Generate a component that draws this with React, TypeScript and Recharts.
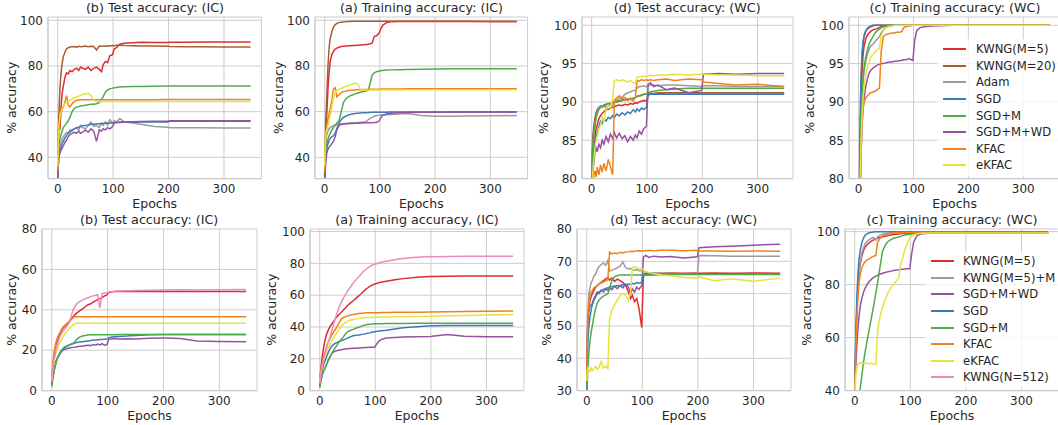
import React from 'react'
import { LineChart, Line, XAxis, YAxis, CartesianGrid } from 'recharts'

// shared epoch grid (x values) for every series
const EPOCHS = [0, 1, 2, 4, 6, 8, 10, 13, 16, 19, 22, 26, 30, 34, 38, 41, 45, 50, 55, 60, 65, 70, 75, 79, 82, 86, 90, 94, 99, 102, 106, 112, 120, 135, 150, 175, 199, 202, 230, 260, 300, 348]
const X_TICKS = [0, 100, 200, 300]

// ---------- top row, (b) Test accuracy: (IC)
const IC_TEST_KWNG5 = [
  33, 45, 58, 52, 62, 68, 71, 75, 77, 76.5,
  78, 77.5, 78.5, 79, 78, 79.5, 79, 78.5, 79.5, 78,
  79, 79.5, 78.5, 77.5, 80.5, 82, 81.5, 84.5, 85, 87.5,
  88, 89.5, 90, 90.2, 90.4, 90.3, 90.3, 90.4, 90.4, 90.5,
  90.5, 90.5,
]
const IC_TEST_KWNG20 = [
  35, 48, 58, 70, 77, 81, 84, 86, 87.5, 88,
  88.3, 88.4, 88.5, 88.2, 88.6, 88.4, 88.5, 88.7, 88.4, 88.6,
  88.5, 87, 88.7, 88.6, 88.8, 88.7, 88.9, 88.8, 89, 88.9,
  89.1, 89.2, 89, 88.9, 88.8, 88.7, 88.6, 88.5, 88.4, 88.4,
  88.3, 88.3,
]
const IC_TEST_ADAM = [
  32, 38, 42, 45, 47, 48, 49, 50, 51, 50.5,
  52, 51.5, 52.5, 53, 52, 54, 53, 52.5, 54, 55.5,
  53.5, 54, 53, 55, 54, 55.5, 54, 56.5, 55, 56,
  55.5, 57, 55.5, 55, 54.5, 53.5, 53.2, 53, 53, 53,
  52.9, 52.8,
]
const IC_TEST_SGD = [
  30, 36, 40, 43, 44.5, 46, 47, 48.5, 49.5, 50.5,
  51, 52, 52.5, 53, 53.2, 53.5, 53.8, 54, 54.2, 54.5,
  54.5, 54.6, 54.7, 54.8, 54.8, 54.9, 55, 55, 55, 55.2,
  55.3, 55.3, 55.4, 55.4, 55.5, 55.5, 55.5, 55.8, 55.8, 55.8,
  55.8, 55.8,
]
const IC_TEST_SGDM = [
  31, 40, 45, 48, 50, 51.5, 53, 54, 55, 56,
  57.5, 60, 61.5, 62, 62.2, 62.5, 62.6, 62.8, 63, 63.2,
  63.3, 63.5, 64, 65.5, 66.5, 68.5, 69.5, 70, 70.3, 70.5,
  70.6, 70.8, 70.9, 71, 71, 71.1, 71.2, 71.2, 71.2, 71.2,
  71.2, 71.2,
]
const IC_TEST_SGDMWD = [
  30, 36, 40, 42, 43, 44, 45, 46.5, 47.5, 49,
  50, 50.5, 51, 50.5, 51.5, 50.5, 51, 52, 51, 52.5,
  51.5, 47, 52, 51.5, 52.5, 52, 53, 52.5, 53.5, 55,
  55.3, 55.5, 55.5, 55.6, 55.7, 55.8, 55.8, 56, 56, 56,
  56, 56,
]
const IC_TEST_KFAC = [
  34, 45, 52, 56, 59, 61, 62, 64, 67, 63,
  62, 63.5, 64.5, 65, 65, 65.2, 65.2, 65.2, 65.2, 65.2,
  65.2, 65.2, 65.2, 65.2, 65.2, 65.2, 65.2, 65.2, 65.2, 65.2,
  65.2, 65.2, 65.2, 65.2, 65.2, 65.2, 65.3, 65.3, 65.3, 65.3,
  65.3, 65.3,
]
const IC_TEST_EKFAC = [
  36, 48, 54, 58, 60, 61.5, 62.5, 63.5, 64, 64.5,
  65, 65.5, 66, 66.5, 66.8, 67, 67.5, 67.8, 68, 67,
  64.8, 64.5, 64.5, 64.5, 64.5, 64.5, 64.5, 64.5, 64.5, 64.5,
  64.5, 64.5, 64.5, 64.5, 64.5, 64.5, 64.5, 64.4, 64.4, 64.4,
  64.4, 64.4,
]

// ---------- top row, (a) Training accuracy: (IC)
const IC_TRAIN_KWNG5 = [
  32, 42, 50, 60, 70, 77, 82, 85, 86.5, 87.3,
  87.8, 88.2, 88.5, 88.6, 88.7, 88.8, 88.9, 89, 89, 89.1,
  89.2, 89.3, 89.4, 89.5, 89.7, 90, 93, 93.2, 94.5, 96.5,
  98, 99, 99.4, 99.5, 99.5, 99.5, 99.5, 99.5, 99.5, 99.5,
  99.5, 99.5,
]
const IC_TRAIN_KWNG20 = [
  32, 45, 55, 68, 80, 88, 92, 95, 97, 98,
  98.6, 99, 99.2, 99.3, 99.4, 99.5, 99.5, 99.6, 99.6, 99.6,
  99.6, 99.6, 99.6, 99.6, 99.6, 99.6, 99.6, 99.6, 99.6, 99.6,
  99.6, 99.6, 99.6, 99.6, 99.6, 99.6, 99.6, 99.6, 99.6, 99.6,
  99.5, 99.5,
]
const IC_TRAIN_ADAM = [
  32, 42, 47, 50, 51.5, 52.5, 53, 53.5, 54, 54.2,
  54.4, 54.5, 54.6, 54.7, 54.8, 54.9, 55, 55.1, 55.2, 55.3,
  55.4, 55.5, 55.6, 56.5, 57, 57.5, 58, 58.3, 58.4, 58.5,
  58.6, 58.7, 58.8, 59, 59.2, 58.3, 58, 58, 58, 58.1,
  58.2, 58.3,
]
const IC_TRAIN_SGD = [
  30, 35, 40, 44, 46, 47.5, 48.3, 49, 49.5, 50.5,
  52.5, 55, 56.5, 57.5, 58, 58.4, 58.7, 59, 59.2, 59.3,
  59.4, 59.5, 59.5, 59.6, 59.6, 59.7, 59.7, 59.7, 59.8, 59.8,
  59.8, 59.8, 59.9, 59.9, 59.9, 59.9, 59.9, 59.9, 59.9, 59.9,
  59.9, 59.9,
]
const IC_TRAIN_SGDM = [
  30, 38, 42, 46, 48, 49.5, 50.5, 52, 53, 54,
  55, 56, 60, 64, 65.5, 66.2, 66.8, 67.3, 67.8, 68.2,
  68.5, 68.8, 69, 69.5, 72, 76, 77, 77.5, 77.8, 78,
  78, 78.2, 78.3, 78.4, 78.5, 78.6, 78.7, 78.7, 78.8, 78.8,
  78.8, 78.8,
]
const IC_TRAIN_SGDMWD = [
  28, 34, 38, 42, 43.5, 44.5, 45, 46, 47, 49,
  52, 54, 54.4, 54.6, 54.7, 54.7, 54.8, 54.8, 54.9, 54.9,
  55, 55, 55.1, 55.1, 55.2, 55.2, 55.3, 55.3, 56, 57.5,
  58.5, 59, 59.3, 59.5, 59.6, 59.7, 59.8, 59.8, 59.9, 59.9,
  59.9, 59.9,
]
const IC_TRAIN_KFAC = [
  34, 45, 50, 54, 57, 59, 61, 65, 70, 70.5,
  66.5, 67.5, 68.3, 68.8, 69, 69.2, 69.3, 69.4, 69.5, 69.6,
  69.6, 69.7, 69.7, 69.7, 69.8, 69.8, 69.8, 69.8, 69.8, 69.9,
  69.9, 69.9, 69.9, 69.9, 70, 70, 70, 70, 70, 70,
  70, 70,
]
const IC_TRAIN_EKFAC = [
  36, 46, 50, 52, 54, 56, 58, 62, 66, 68.5,
  69.3, 69.8, 70.2, 70.6, 71, 71.3, 71.6, 72, 72.5, 72,
  69.8, 69.5, 69.5, 69.5, 69.5, 69.5, 69.5, 69.5, 69.5, 69.5,
  69.5, 69.5, 69.5, 69.5, 69.6, 69.6, 69.6, 69.6, 69.6, 69.6,
  69.6, 69.6,
]

// ---------- top row, (d) Test accuracy: (WC)
const WC_TEST_KWNG5 = [
  77, 80, 82, 84, 85.5, 86.5, 87, 87.8, 88.2, 88.5,
  88.7, 89, 89, 89.2, 89.3, 89.4, 89.5, 89.6, 89.5, 89.7,
  89.6, 89.8, 89.7, 89.9, 89.8, 90, 90.1, 90.2, 90.1, 91,
  91.1, 91, 91.1, 91, 91, 91, 91, 91, 91, 91,
  91, 91,
]
const WC_TEST_KWNG20 = [
  80, 83.5, 85.5, 87, 88, 88.6, 89, 89.3, 89.5, 89.4,
  89.6, 89.7, 89.8, 89.8, 89.9, 90, 90, 90.1, 90.2, 90.3,
  90.3, 90.4, 90.5, 90.6, 90.7, 90.8, 90.9, 91, 91, 91.1,
  91.1, 91.1, 91.2, 91.2, 91.2, 91.2, 91.2, 91.2, 91.2, 91.2,
  91.2, 91.2,
]
const WC_TEST_ADAM = [
  78, 82, 84, 85.5, 87, 88, 88.5, 89.2, 89.5, 89.3,
  89.6, 89.2, 89.5, 89.4, 89.6, 89.8, 90.2, 90.5, 90.6, 91,
  91.2, 91.3, 91.5, 91.5, 91.8, 92, 92, 92.1, 92, 92.1,
  92.2, 92.2, 92.1, 92.2, 92.2, 92.1, 92, 92.1, 92.1, 92,
  92, 92,
]
const WC_TEST_SGD = [
  76, 79, 81, 83, 84.5, 85.5, 86, 86.8, 87.5, 87.2,
  87.8, 87.5, 88, 87.8, 88.2, 88, 88.4, 88.2, 88.6, 88.3,
  88.7, 88.5, 89, 88.7, 89.1, 88.8, 89.2, 89, 89.3, 90.9,
  91, 91, 91, 91, 91, 91, 91, 91, 91, 91,
  91, 91,
]
const WC_TEST_SGDM = [
  79, 82.5, 84.5, 86, 87, 88, 88.5, 89, 89.3, 89.5,
  89.4, 89.6, 89.8, 89.7, 90, 90, 90.1, 90.2, 90.3, 90.3,
  90.4, 90.3, 90.5, 90.6, 90.7, 90.8, 90.8, 91, 91, 91.2,
  91.3, 91.4, 91.5, 91.6, 91.7, 91.8, 91.8, 91.8, 91.8, 91.8,
  91.8, 91.8,
]
const WC_TEST_SGDMWD = [
  75, 79, 81, 82, 83.5, 84, 83.5, 84.5, 84, 85,
  84.5, 85.5, 84.8, 85.8, 85.2, 86, 85.3, 85.9, 85.2, 85.6,
  84.8, 85.5, 85, 85.7, 85.3, 86.2, 85.8, 86.5, 86.8, 92.3,
  92.5, 92, 92.2, 91.6, 91.8, 91.2, 91.5, 93.6, 93.7, 93.6,
  93.7, 93.7,
]
const WC_TEST_KFAC = [
  74, 77, 79, 80.5, 81, 80.2, 81.5, 80.5, 81.8, 80.8,
  82, 81, 82.5, 81.5, 80.5, 90.2, 90.5, 90.8, 90.4, 90.6,
  90.2, 90.5, 90.1, 90.6, 92.8, 92.7, 92.9, 92.8, 92.9, 92.8,
  92.9, 92.8, 92.9, 93, 92.8, 93, 92.9, 92.6, 92.4, 92.2,
  92.3, 92,
]
const WC_TEST_EKFAC = [
  76, 79, 81, 82.5, 84, 85, 85.5, 86.5, 87, 88,
  87.5, 89, 89.5, 89.2, 90.5, 92.8, 92.9, 92.7, 92.9, 92.8,
  92.6, 92.8, 92.5, 92.4, 93.2, 93.3, 93.3, 93.4, 93.3, 93.4,
  93.5, 93.4, 93.5, 93.5, 93.6, 93.5, 93.6, 93.6, 93.5, 93.5,
  93.4, 93.4,
]

// ---------- top row, (c) Training accuracy: (WC)
const WC_TRAIN_KWNG5 = [
  50, 68, 80, 89, 93.5, 96, 97.3, 98.2, 98.7, 99,
  99.2, 99.4, 99.5, 99.6, 99.7, 99.8, 99.85, 99.9, 99.95, 100,
  100, 100, 100, 100, 100, 100, 100, 100, 100, 100,
  100, 100, 100, 100, 100, 100, 100, 100, 100, 100,
  100, 100,
]
const WC_TRAIN_KWNG20 = [
  50, 70, 82, 91.5, 95.5, 97.5, 98.5, 99.2, 99.5, 99.7,
  99.8, 99.9, 100, 100, 100, 100, 100, 100, 100, 100,
  100, 100, 100, 100, 100, 100, 100, 100, 100, 100,
  100, 100, 100, 100, 100, 100, 100, 100, 100, 100,
  100, 100,
]
const WC_TRAIN_ADAM = [
  50, 65, 77, 86, 90, 92.5, 94, 95.3, 96.2, 96.8,
  97.3, 97.5, 97.9, 98.2, 98.5, 99, 99.4, 99.7, 99.85, 99.9,
  100, 100, 100, 100, 100, 100, 100, 100, 100, 100,
  100, 100, 100, 100, 100, 100, 100, 100, 100, 100,
  100, 100,
]
const WC_TRAIN_SGD = [
  50, 70, 83, 92, 96, 97.8, 98.7, 99.3, 99.6, 99.8,
  99.9, 100, 100, 100, 100, 100, 100, 100, 100, 100,
  100, 100, 100, 100, 100, 100, 100, 100, 100, 100,
  100, 100, 100, 100, 100, 100, 100, 100, 100, 100,
  100, 100,
]
const WC_TRAIN_SGDM = [
  50, 66, 78, 87, 90.5, 93, 94.5, 95.8, 96.8, 97.5,
  98, 98.5, 99, 99.3, 99.5, 99.7, 99.8, 99.9, 100, 100,
  100, 100, 100, 100, 100, 100, 100, 100, 100, 100,
  100, 100, 100, 100, 100, 100, 100, 100, 100, 100,
  100, 100,
]
const WC_TRAIN_SGDMWD = [
  50, 62, 72, 82, 86.5, 89, 90.5, 92, 93, 93.7,
  94.1, 94.4, 94.6, 94.8, 94.9, 95, 95, 95.1, 95.2, 95.2,
  95.3, 95.3, 95.4, 95.4, 95.5, 95.5, 95.6, 95.6, 95.4, 98,
  99.3, 99.7, 99.8, 99.9, 99.95, 100, 100, 100, 100, 100,
  100, 100,
]
const WC_TRAIN_KFAC = [
  50, 62, 72, 82, 87, 89, 90, 90.5, 90.8, 91,
  91.2, 91.3, 91.4, 91.6, 91.8, 96.5, 98.5, 98.8, 98.9, 99,
  99, 99.1, 99.1, 99.2, 99.7, 99.8, 99.9, 99.9, 100, 100,
  100, 100, 100, 100, 100, 100, 100, 100, 100, 100,
  100, 100,
]
const WC_TRAIN_EKFAC = [
  50, 63, 74, 84, 88, 90.5, 92, 93.5, 94.5, 95.2,
  95.8, 96.2, 96.5, 96.8, 97, 98.5, 99.3, 99.7, 99.85, 99.9,
  100, 100, 100, 100, 100, 100, 100, 100, 100, 100,
  100, 100, 100, 100, 100, 100, 100, 100, 100, 100,
  100, 100,
]

// ---------- bottom row, (b) Test accuracy: (IC)
const IC2_TEST_KWNG5 = [
  5, 9, 12, 17, 20, 23, 24.5, 27, 29, 30.5,
  31.5, 32.5, 33.5, 35, 36.5, 37.5, 38.5, 39.5, 40.5, 41.5,
  42.5, 43, 44, 44.5, 45, 45.5, 46, 46.8, 47.5, 48.5,
  48.8, 49, 49, 49, 49, 49, 49, 49, 49, 49,
  49, 49,
]
const IC2_TEST_SGDMWD = [
  3, 5, 7, 10, 12.5, 14.5, 16, 17.5, 18.8, 19.8,
  20.3, 20.7, 21, 21.2, 21.4, 21.5, 21.7, 22, 22, 22.3,
  22.5, 22.3, 22.8, 22.5, 23, 22.6, 23.2, 22.5, 22.8, 25.5,
  25.6, 25.8, 25.5, 25.7, 25.6, 25.9, 26, 26, 25.8, 24.5,
  24.3, 24.2,
]
const IC2_TEST_SGD = [
  3, 5, 7, 10, 12.5, 14.5, 16, 17.5, 19, 20,
  21, 21.8, 22.3, 22.8, 23.2, 23.5, 23.8, 24, 24.2, 24.4,
  24.6, 24.8, 25, 25, 25.2, 25.3, 25.3, 25.4, 25.5, 26.2,
  26.4, 26.6, 26.8, 27, 27.3, 27.6, 27.8, 27.8, 27.8, 27.8,
  27.8, 27.8,
]
const IC2_TEST_SGDM = [
  2, 4, 6, 9, 12, 14, 16, 18, 19.5, 20.5,
  21.5, 22, 22.5, 23, 23.5, 24, 25.5, 26.5, 27, 27.3,
  27.5, 27.6, 27.6, 27.6, 27.6, 27.6, 27.7, 27.7, 27.7, 27.7,
  27.7, 27.7, 27.8, 27.8, 27.8, 27.8, 27.8, 27.8, 27.8, 27.8,
  27.8, 27.8,
]
const IC2_TEST_KFAC = [
  5, 10, 14, 19, 22, 24.5, 26, 28, 29.5, 31,
  32, 33, 34, 35, 36, 36.5, 36.5, 36.6, 36.5, 36.6,
  36.5, 36.6, 36.5, 36.6, 36.5, 36.6, 36.5, 36.6, 36.5, 36.6,
  36.5, 36.6, 36.5, 36.6, 36.5, 36.6, 36.5, 36.6, 36.5, 36.6,
  36.5, 36.5,
]
const IC2_TEST_EKFAC = [
  5, 8, 11, 14.5, 17, 19.5, 21, 23, 24.5, 26,
  27.5, 29, 30.5, 31.5, 32.5, 33, 33.3, 33.3, 33.4, 33.3,
  33.3, 33.4, 33.3, 33.3, 33.4, 33.3, 33.3, 33.4, 33.3, 33.3,
  33.4, 33.3, 33.3, 33.4, 33.3, 33.3, 33.4, 33.3, 33.3, 33.4,
  33.3, 33.3,
]
const IC2_TEST_N512 = [
  5, 8, 11, 15, 18, 21, 23, 25.5, 27.5, 29,
  30, 31.5, 33, 36, 40, 41.5, 43, 44, 44.8, 45.5,
  46, 46.5, 47, 47.2, 47.5, 41, 48, 48.3, 48.5, 48.8,
  49, 49.2, 49.3, 49.4, 49.5, 49.7, 49.8, 49.8, 49.9, 49.8,
  49.9, 50,
]

// ---------- bottom row, (a) Training accuracy, (IC)
const IC2_TRAIN_KWNG5 = [
  5, 10, 14, 20, 25, 29, 32.5, 36, 38.5, 40.5,
  42, 44, 46, 47.5, 49, 50, 51.5, 53.5, 55, 56.5,
  58, 59.5, 61, 62.5, 63.5, 64.5, 65.5, 66.3, 67, 67.3,
  67.8, 68.3, 68.8, 69.7, 70.4, 71.2, 71.8, 71.8, 71.9, 72,
  72, 72,
]
const IC2_TRAIN_SGDMWD = [
  2, 4, 6, 9, 11.5, 13, 14.5, 17, 19.5, 21.5,
  23.5, 24.5, 25, 25.4, 25.7, 25.9, 26.1, 26.3, 26.5, 26.6,
  26.7, 26.8, 26.9, 27, 27.1, 27.1, 27.2, 27.2, 27.3, 29,
  31, 32.3, 33, 33.4, 33.7, 33.9, 34, 34.1, 35.3, 34.2,
  33.9, 33.8,
]
const IC2_TRAIN_SGD = [
  3, 6, 9, 12.5, 15, 17.5, 19, 22, 24.5, 26.5,
  28, 29.3, 30, 30.7, 31.3, 31.6, 32.2, 33, 33.8, 34.5,
  34.8, 35, 35.3, 35.5, 35.7, 36, 36.3, 36.7, 37, 37.2,
  37.4, 37.7, 38, 38.8, 39.5, 40.2, 40.7, 40.8, 40.9, 41,
  41, 41,
]
const IC2_TRAIN_SGDM = [
  2, 4, 6, 9, 11.5, 13, 14.5, 17, 19.5, 21.5,
  23.5, 26, 28, 30, 32, 33, 35, 37, 37.8, 38.5,
  39.2, 39.8, 40.5, 41, 41.3, 41.5, 41.7, 41.8, 42, 42,
  42.1, 42.1, 42.2, 42.2, 42.2, 42.3, 42.3, 42.3, 42.3, 42.3,
  42.3, 42.3,
]
const IC2_TRAIN_KFAC = [
  5, 9, 12, 16, 19.5, 22.5, 25, 28.5, 31, 33,
  35, 37.5, 39.5, 42, 44.5, 45.5, 46.3, 47, 47.5, 47.9,
  48.2, 48.5, 48.7, 48.8, 48.9, 48.9, 49, 49, 49, 49,
  49, 49.1, 49.1, 49.2, 49.2, 49.3, 49.4, 49.4, 49.6, 49.7,
  49.9, 50,
]
const IC2_TRAIN_EKFAC = [
  5, 8, 11, 14.5, 17.5, 20, 22, 25, 27.5, 29.5,
  31.5, 34, 36, 38, 40, 41.5, 42.5, 43.5, 44.2, 44.7,
  45.1, 45.4, 45.6, 45.8, 45.9, 46, 46, 46, 46.1, 46.1,
  46.2, 46.2, 46.3, 46.4, 46.5, 46.6, 46.8, 46.8, 47, 47.2,
  47.5, 47.8,
]
const IC2_TRAIN_N512 = [
  5, 8, 11, 15, 18, 21, 24, 28, 31, 34,
  38, 43, 47.5, 51.5, 55, 57, 59.5, 62.5, 65, 67.5,
  69.5, 71.5, 73.5, 75, 76, 77, 78, 78.8, 79.5, 79.8,
  80.2, 80.8, 81.3, 82.2, 83, 83.8, 84.3, 84.2, 84.3, 84.4,
  84.5, 84.5,
]

// ---------- bottom row, (d) Test accuracy: (WC)
const WC2_TEST_KWNG5 = [
  35, 46, 52, 56, 58, 59, 60, 61, 62, 62.5,
  63, 63.5, 64, 64.5, 65, 64.2, 64.8, 63.8, 64.5, 64,
  63.5, 62.5, 60.5, 58.5, 59.5, 57.5, 58.5, 55.5, 49.5, 66,
  66.2, 66.2, 66.3, 66.3, 66.4, 66.3, 66.4, 66.3, 66.4, 66.3,
  66.4, 66.3,
]
const WC2_TEST_KWNG5M = [
  30, 45, 54, 60, 62, 63.5, 64, 65.5, 66, 67.5,
  68.3, 69, 69.5, 68.8, 70.3, 67, 67.2, 67.6, 68, 68.5,
  69.8, 68, 67.6, 67.8, 67.5, 67.2, 67.5, 67.1, 67.2, 66.8,
  66.7, 66.5, 66.4, 66.3, 66.2, 66.1, 66.1, 71.8, 71.7, 71.6,
  71.6, 71.6,
]
const WC2_TEST_SGDMWD = [
  30, 42, 50, 55, 56, 56.5, 57, 58.5, 59.5, 60.5,
  60, 61, 60.5, 61.5, 61, 62, 61.2, 62.3, 61.5, 62.5,
  61.8, 63, 62, 60, 61.5, 60.5, 62, 61.3, 62.5, 71.3,
  71.8, 71.2, 71.6, 71.3, 71.5, 71, 71.4, 74.2, 74.5, 74.7,
  75, 75.3,
]
const WC2_TEST_SGD = [
  30, 38, 45, 50, 53, 55, 56.5, 58, 59, 60,
  60.5, 61, 61.3, 61.6, 61.8, 62, 62.2, 62.3, 62.5, 62.4,
  62.8, 62.6, 63, 62.8, 63.2, 63, 63.4, 63.2, 63.5, 65.5,
  65.7, 65.8, 65.9, 66, 66, 66, 66, 66, 66, 66,
  66, 66,
]
const WC2_TEST_SGDM = [
  25, 32, 37, 42, 45.5, 48, 50, 53, 55.5, 57,
  58, 58.7, 59.2, 59.6, 60, 61.5, 64, 65.2, 65.6, 65.8,
  65.8, 65.8, 65.8, 65.8, 65.8, 65.8, 65.8, 65.8, 65.8, 65.8,
  65.8, 65.8, 65.8, 65.9, 65.9, 65.9, 65.9, 65.9, 65.9, 65.9,
  65.9, 65.9,
]
const WC2_TEST_KFAC = [
  33, 45, 52, 57, 59.5, 60.5, 61, 61.8, 62.2, 62.5,
  63, 63.3, 63.6, 64, 64.3, 72.8, 72.3, 72.6, 72.4, 72.8,
  72.6, 72.9, 73, 73.1, 73, 73.2, 73.2, 73.3, 73.2, 73.3,
  73.3, 73.4, 73.3, 73.4, 73.4, 73.3, 73.4, 73.2, 73.2, 73.1,
  73.2, 73.1,
]
const WC2_TEST_EKFAC = [
  33, 36, 37, 36.5, 36, 37, 36.2, 36.8, 37.5, 36.5,
  37.2, 39, 37, 37.5, 36.8, 52, 55, 56.5, 58, 59.5,
  60, 59.5, 58, 60.5, 68, 68.3, 68, 67.6, 67.8, 67.2,
  66.8, 66.5, 66.2, 65.8, 65.5, 65, 64.8, 65.2, 64, 64.6,
  63.8, 64.8,
]

// ---------- bottom row, (c) Training accuracy: (WC)
const WC2_TRAIN_KWNG5 = [
  38, 50, 58, 72, 80, 85, 88, 91, 93, 94.2,
  95, 95.8, 96.4, 96.9, 97.3, 97.5, 97.8, 98, 98.3, 98.5,
  98.7, 98.9, 99, 99.1, 99.2, 99.3, 99.3, 99.4, 99.4, 99.5,
  99.5, 99.5, 99.5, 99.5, 99.5, 99.5, 99.5, 99.5, 99.5, 99.5,
  99.5, 99.5,
]
const WC2_TRAIN_KWNG5M = [
  38, 50, 58, 72, 80, 85, 88.5, 92, 94, 95.5,
  96.3, 97, 97.5, 97.8, 96.8, 98, 98.6, 99, 99.2, 99.3,
  99.4, 99.5, 99.5, 99.6, 99.6, 99.6, 99.7, 99.7, 99.7, 99.7,
  99.7, 99.7, 99.7, 99.7, 99.7, 99.7, 99.7, 99.7, 99.7, 99.7,
  99.7, 99.7,
]
const WC2_TRAIN_SGDMWD = [
  38, 45, 50, 58, 64, 68.5, 72, 75, 77.2, 78.8,
  80, 81.2, 82, 82.7, 83.2, 83.5, 83.9, 84.3, 84.6, 84.9,
  85.1, 85.3, 85.5, 85.6, 85.7, 85.8, 85.9, 86, 86, 91,
  96, 98.5, 99.2, 99.4, 99.5, 99.5, 99.5, 99.5, 99.5, 99.5,
  99.5, 99.5,
]
const WC2_TRAIN_SGD = [
  40, 52, 62, 76, 85, 90, 93, 96, 97.7, 98.7,
  99.2, 99.6, 99.8, 99.9, 100, 100, 100, 100, 100, 100,
  100, 100, 100, 100, 100, 100, 100, 100, 100, 100,
  100, 100, 100, 100, 100, 100, 100, 100, 100, 100,
  100, 100,
]
const WC2_TRAIN_SGDM = [
  25, 28, 30, 33, 36, 38.5, 41, 46, 51, 55,
  58.5, 63, 67.5, 72, 77, 80.5, 86, 92.5, 95, 96.3,
  97, 97.5, 97.8, 98, 98.2, 98.5, 98.7, 98.9, 99, 99.1,
  99.2, 99.3, 99.4, 99.5, 99.5, 99.5, 99.5, 99.5, 99.5, 99.5,
  99.5, 99.5,
]
const WC2_TRAIN_KFAC = [
  38, 48, 56, 68, 76, 81, 84, 86.5, 87.8, 88.7,
  89.3, 89.8, 90.3, 90.7, 91, 96, 97.3, 98.3, 98.8, 99.2,
  99.4, 99.5, 99.6, 99.6, 99.7, 99.7, 99.7, 99.7, 99.7, 99.8,
  99.8, 99.8, 99.8, 99.8, 99.8, 99.8, 99.8, 99.8, 99.8, 99.8,
  99.8, 99.8,
]
const WC2_TRAIN_EKFAC = [
  35, 42, 46, 49, 50, 50.5, 50.3, 50.6, 50.2, 50.4,
  50.3, 50, 50.4, 50, 49.8, 62, 67.5, 71.5, 74.5, 77,
  78.8, 80.2, 81.5, 82.5, 87, 90, 93, 95.5, 97.3, 98.2,
  98.8, 99.2, 99.4, 99.5, 99.5, 99.5, 99.5, 99.5, 99.5, 99.5,
  99.5, 99.5,
]

const TEXT = '#262626'
const GRID = '#cccccc'
const RED = '#dc2d2f'
const BROWN = '#a65d34'
const GRAY = '#9b9b9b'
const BLUE = '#3b7bba'
const GREEN = '#4eab4c'
const PURPLE = '#9552a1'
const ORANGE = '#f0821e'
const YELLOW = '#e4e33c'
const PINK = '#f088c2'

type Series = { name: string; color: string; values: number[] }

const TOP_LEGEND = [
  { name: 'KWNG(M=5)', color: RED },
  { name: 'KWNG(M=20)', color: BROWN },
  { name: 'Adam', color: GRAY },
  { name: 'SGD', color: BLUE },
  { name: 'SGD+M', color: GREEN },
  { name: 'SGD+M+WD', color: PURPLE },
  { name: 'KFAC', color: ORANGE },
  { name: 'eKFAC', color: YELLOW },
]
const BOTTOM_LEGEND = [
  { name: 'KWNG(M=5)', color: RED },
  { name: 'KWNG(M=5)+M', color: GRAY },
  { name: 'SGD+M+WD', color: PURPLE },
  { name: 'SGD', color: BLUE },
  { name: 'SGD+M', color: GREEN },
  { name: 'KFAC', color: ORANGE },
  { name: 'eKFAC', color: YELLOW },
  { name: 'KWNG(N=512)', color: PINK },
]

const top = (vals: number[][]): Series[] =>
  TOP_LEGEND.map((m, i) => ({ ...m, values: vals[i] }))

const pick = (names: string[], vals: number[][]): Series[] =>
  names.map((n, i) => ({
    name: n,
    color: BOTTOM_LEGEND.find((b) => b.name === n)!.color,
    values: vals[i],
  }))

const YW = 48
const MT = 10
const MR = 2
const XH = 34

interface PanelProps {
  title: string
  x0: number
  x1: number
  y0: number
  y1: number
  xDomain?: [number, number]
  yDomain: [number, number]
  yTicks: number[]
  labelGap: number
  series: Series[]
}

const Panel: React.FC<PanelProps> = ({
  title,
  x0,
  x1,
  y0,
  y1,
  xDomain = [-17.5, 367.5],
  yDomain,
  yTicks,
  labelGap,
  series,
}) => {
  const data = EPOCHS.map((epoch, i) => {
    const row: Record<string, number> = { epoch }
    series.forEach((s, k) => {
      row['s' + k] = s.values[i]
    })
    return row
  })
  const w = x1 - x0 + YW + MR
  const h = y1 - y0 + MT + XH

  return (
    <>
      <div
        style={{
          position: 'absolute',
          left: x0,
          width: x1 - x0,
          top: y0 - 16.5,
          lineHeight: '16px',
          fontSize: 12.7,
          textAlign: 'center',
          whiteSpace: 'nowrap',
          color: TEXT,
        }}
      >
        {title}
      </div>
      <div style={{ position: 'absolute', left: x0 - YW, top: y0 - MT }}>
        <LineChart width={w} height={h} data={data} margin={{ top: MT, right: MR, bottom: 0, left: 0 }}>
          <CartesianGrid stroke={GRID} strokeWidth={1} />
          <XAxis
            dataKey="epoch"
            type="number"
            domain={xDomain}
            ticks={X_TICKS}
            interval={0}
            allowDataOverflow
            height={XH}
            tickSize={0}
            tickMargin={6}
            axisLine={{ stroke: GRID, strokeWidth: 1.2 }}
            tick={{ fontSize: 12, fill: TEXT }}
            label={{
              value: 'Epochs',
              position: 'insideBottom',
              offset: 5,
              style: { fontSize: 12.5, fill: TEXT, textAnchor: 'middle' },
            }}
          />
          <YAxis
            type="number"
            domain={yDomain}
            ticks={yTicks}
            interval={0}
            allowDataOverflow
            width={YW}
            tickSize={0}
            tickMargin={5}
            axisLine={{ stroke: GRID, strokeWidth: 1.2 }}
            tick={{ fontSize: 12, fill: TEXT }}
            label={{
              value: '% accuracy',
              angle: -90,
              position: 'insideLeft',
              offset: YW - labelGap,
              style: { fontSize: 12.5, fill: TEXT, textAnchor: 'middle' },
            }}
          />
          <XAxis
            xAxisId="top"
            orientation="top"
            type="number"
            dataKey="epoch"
            domain={xDomain}
            allowDataOverflow
            height={0}
            tick={false}
            tickLine={false}
            axisLine={{ stroke: GRID, strokeWidth: 1.2 }}
          />
          <YAxis
            yAxisId="right"
            orientation="right"
            type="number"
            domain={yDomain}
            allowDataOverflow
            width={0}
            tick={false}
            tickLine={false}
            axisLine={{ stroke: GRID, strokeWidth: 1.2 }}
          />
          {series.map((s, k) => (
            <Line
              key={s.name}
              type="linear"
              dataKey={'s' + k}
              name={s.name}
              stroke={s.color}
              strokeWidth={1.5}
              dot={false}
              activeDot={false}
              isAnimationActive={false}
            />
          ))}
        </LineChart>
      </div>
    </>
  )
}

const LegendBox: React.FC<{
  left: number
  top: number
  gap: number
  items: { name: string; color: string }[]
}> = ({ left, top, gap, items }) => (
  <div
    style={{
      position: 'absolute',
      left,
      top,
      width: 140,
      padding: '2px 0 2px 5.5px',
      background: 'rgba(255,255,255,0.8)',
      fontSize: 11.6,
      color: TEXT,
    }}
  >
    {items.map((it) => (
      <div key={it.name} style={{ display: 'flex', alignItems: 'center', height: 16.6, whiteSpace: 'nowrap' }}>
        <span style={{ display: 'inline-block', width: 23.5, height: 2, background: it.color, marginRight: gap }} />
        {it.name}
      </div>
    ))}
  </div>
)

export default function App() {
  return (
    <div
      style={{
        position: 'absolute',
        left: 0,
        top: 0,
        width: 1058,
        height: 425,
        overflow: 'hidden',
        background: '#fff',
        fontFamily: '"DejaVu Sans", sans-serif',
      }}
    >
      <Panel
        title="(b) Test accuracy: (IC)"
        x0={48.3}
        x1={261.7}
        y0={16.7}
        y1={178.3}
        yDomain={[30.7, 101.45]}
        yTicks={[40, 60, 80, 100]}
        labelGap={36.6}
        series={top([IC_TEST_KWNG5, IC_TEST_KWNG20, IC_TEST_ADAM, IC_TEST_SGD, IC_TEST_SGDM, IC_TEST_SGDMWD, IC_TEST_KFAC, IC_TEST_EKFAC])}
      />
      <Panel
        title="(a) Training accuracy: (IC)"
        x0={315.2}
        x1={527.8}
        y0={16.7}
        y1={178.3}
        yDomain={[30.7, 101.45]}
        yTicks={[40, 60, 80, 100]}
        labelGap={36.9}
        series={top([IC_TRAIN_KWNG5, IC_TRAIN_KWNG20, IC_TRAIN_ADAM, IC_TRAIN_SGD, IC_TRAIN_SGDM, IC_TRAIN_SGDMWD, IC_TRAIN_KFAC, IC_TRAIN_EKFAC])}
      />
      <Panel
        title="(d) Test accuracy: (WC)"
        x0={581.7}
        x1={792.7}
        y0={16.7}
        y1={178.3}
        xDomain={[-17.5, 364]}
        yDomain={[80, 101.08]}
        yTicks={[80, 85, 90, 95, 100]}
        labelGap={38.4}
        series={top([WC_TEST_KWNG5, WC_TEST_KWNG20, WC_TEST_ADAM, WC_TEST_SGD, WC_TEST_SGDM, WC_TEST_SGDMWD, WC_TEST_KFAC, WC_TEST_EKFAC])}
      />
      <Panel
        title="(c) Training accuracy: (WC)"
        x0={849.3}
        x1={1060.6}
        y0={16.7}
        y1={178.3}
        yDomain={[80, 101.08]}
        yTicks={[80, 85, 90, 95, 100]}
        labelGap={39.3}
        series={top([WC_TRAIN_KWNG5, WC_TRAIN_KWNG20, WC_TRAIN_ADAM, WC_TRAIN_SGD, WC_TRAIN_SGDM, WC_TRAIN_SGDMWD, WC_TRAIN_KFAC, WC_TRAIN_EKFAC])}
      />
      <LegendBox left={937} top={39} gap={10} items={TOP_LEGEND} />

      <Panel
        title="(b) Test accuracy: (IC)"
        x0={41.7}
        x1={256.7}
        y0={228.7}
        y1={390.3}
        yDomain={[0, 80]}
        yTicks={[0, 20, 40, 60, 80]}
        labelGap={30}
        series={pick(
          ['KWNG(M=5)', 'SGD+M+WD', 'SGD', 'SGD+M', 'KFAC', 'eKFAC', 'KWNG(N=512)'],
          [IC2_TEST_KWNG5, IC2_TEST_SGDMWD, IC2_TEST_SGD, IC2_TEST_SGDM, IC2_TEST_KFAC, IC2_TEST_EKFAC, IC2_TEST_N512]
        )}
      />
      <Panel
        title="(a) Training accuracy, (IC)"
        x0={310}
        x1={524}
        y0={228.7}
        y1={390.3}
        yDomain={[0, 101.6]}
        yTicks={[0, 20, 40, 60, 80, 100]}
        labelGap={38.3}
        series={pick(
          ['KWNG(M=5)', 'SGD+M+WD', 'SGD', 'SGD+M', 'KFAC', 'eKFAC', 'KWNG(N=512)'],
          [IC2_TRAIN_KWNG5, IC2_TRAIN_SGDMWD, IC2_TRAIN_SGD, IC2_TRAIN_SGDM, IC2_TRAIN_KFAC, IC2_TRAIN_EKFAC, IC2_TRAIN_N512]
        )}
      />
      <Panel
        title="(d) Test accuracy: (WC)"
        x0={576.7}
        x1={790.7}
        y0={228.7}
        y1={390.3}
        yDomain={[30, 80]}
        yTicks={[30, 40, 50, 60, 70, 80]}
        labelGap={30}
        series={pick(
          ['KWNG(M=5)', 'KWNG(M=5)+M', 'SGD+M+WD', 'SGD', 'SGD+M', 'KFAC', 'eKFAC'],
          [WC2_TEST_KWNG5, WC2_TEST_KWNG5M, WC2_TEST_SGDMWD, WC2_TEST_SGD, WC2_TEST_SGDM, WC2_TEST_KFAC, WC2_TEST_EKFAC]
        )}
      />
      <Panel
        title="(c) Training accuracy: (WC)"
        x0={845}
        x1={1059}
        y0={228.7}
        y1={390.3}
        yDomain={[40, 101]}
        yTicks={[40, 60, 80, 100]}
        labelGap={38.3}
        series={pick(
          ['KWNG(M=5)', 'KWNG(M=5)+M', 'SGD+M+WD', 'SGD', 'SGD+M', 'KFAC', 'eKFAC'],
          [WC2_TRAIN_KWNG5, WC2_TRAIN_KWNG5M, WC2_TRAIN_SGDMWD, WC2_TRAIN_SGD, WC2_TRAIN_SGDM, WC2_TRAIN_KFAC, WC2_TRAIN_EKFAC]
        )}
      />
      <LegendBox left={925} top={251} gap={9} items={BOTTOM_LEGEND} />
    </div>
  )
}
